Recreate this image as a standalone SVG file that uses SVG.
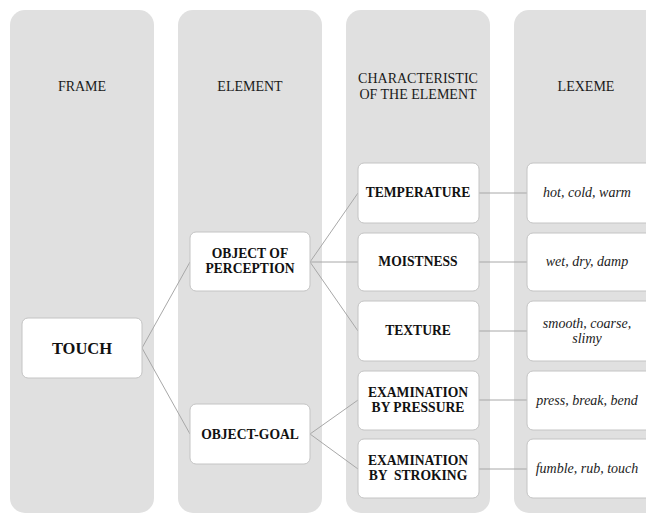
<svg xmlns="http://www.w3.org/2000/svg" width="646" height="514" viewBox="0 0 646 514">
<style>
.col{fill:#e0e0e0}
.box{fill:#fff;stroke:#c4c4c4;stroke-width:1}
text{font-family:'Liberation Serif','Times New Roman',serif}
.hd{font-size:14px;fill:#1a1a1a;text-anchor:middle}
.lb{font-size:13.6px;font-weight:bold;fill:#111;text-anchor:middle}
.lx{font-size:14px;font-style:italic;fill:#222;text-anchor:middle}
.cn{stroke:#a8a8a8;stroke-width:1;fill:none}
</style>
<rect width="646" height="514" fill="#fff"/>
<g id="columns">
<rect class="col" x="10" y="10" width="144" height="503" rx="15"/>
<rect class="col" x="178" y="10" width="144" height="503" rx="15"/>
<rect class="col" x="346" y="10" width="144" height="503" rx="15"/>
<rect class="col" x="514" y="10" width="160" height="503" rx="15"/>
<text class="hd" x="82" y="91">FRAME</text>
<text class="hd" x="250" y="91">ELEMENT</text>
<text class="hd" x="418" y="83">CHARACTERISTIC</text>
<text class="hd" x="418" y="99">OF THE ELEMENT</text>
<text class="hd" x="586" y="91">LEXEME</text>
</g>
<g id="connectors">
<path class="cn" d="M142 348 L190 262 M142 348 L190 434"/>
<path class="cn" d="M310 262 L358 193 M310 262 L358 262 M310 262 L358 331"/>
<path class="cn" d="M310 434 L358 400 M310 434 L358 469"/>
<path class="cn" d="M479 193 L527 193 M479 262 L527 262 M479 331 L527 331 M479 400 L527 400 M479 469 L527 469"/>
</g>
<g id="touch">
<rect class="box" x="22" y="318" width="120" height="60" rx="6"/>
<text class="lb" x="82" y="354" style="font-size:16.5px">TOUCH</text>
</g>
<g id="object-of-perception">
<rect class="box" x="190" y="232" width="120" height="59" rx="6"/>
<text class="lb" x="250" y="258">OBJECT OF</text>
<text class="lb" x="250" y="273">PERCEPTION</text>
</g>
<g id="object-goal">
<rect class="box" x="190" y="404" width="120" height="60" rx="6"/>
<text class="lb" x="250" y="439">OBJECT-GOAL</text>
</g>
<g id="temperature">
<rect class="box" x="358" y="163" width="121" height="60" rx="6"/>
<text class="lb" x="418" y="197">TEMPERATURE</text>
</g>
<g id="moistness">
<rect class="box" x="358" y="233" width="121" height="58" rx="6"/>
<text class="lb" x="418" y="266">MOISTNESS</text>
</g>
<g id="texture">
<rect class="box" x="358" y="301" width="121" height="60" rx="6"/>
<text class="lb" x="418" y="335">TEXTURE</text>
</g>
<g id="exam-pressure">
<rect class="box" x="358" y="371" width="121" height="59" rx="6"/>
<text class="lb" x="418" y="397">EXAMINATION</text>
<text class="lb" x="418" y="412">BY PRESSURE</text>
</g>
<g id="exam-stroking">
<rect class="box" x="358" y="439" width="121" height="59" rx="6"/>
<text class="lb" x="418" y="465">EXAMINATION</text>
<text class="lb" x="418" y="480" xml:space="preserve">BY  STROKING</text>
</g>
<g id="lex-temperature">
<rect class="box" x="527" y="163" width="125" height="60" rx="6"/>
<text class="lx" x="587" y="197">hot, cold, warm</text>
</g>
<g id="lex-moistness">
<rect class="box" x="527" y="233" width="125" height="58" rx="6"/>
<text class="lx" x="587" y="266">wet, dry, damp</text>
</g>
<g id="lex-texture">
<rect class="box" x="527" y="301" width="125" height="60" rx="6"/>
<text class="lx" x="587" y="328">smooth, coarse,</text>
<text class="lx" x="587" y="343">slimy</text>
</g>
<g id="lex-pressure">
<rect class="box" x="527" y="371" width="125" height="59" rx="6"/>
<text class="lx" x="587" y="405">press, break, bend</text>
</g>
<g id="lex-stroking">
<rect class="box" x="527" y="439" width="125" height="59" rx="6"/>
<text class="lx" x="587" y="473">fumble, rub, touch</text>
</g>
</svg>
